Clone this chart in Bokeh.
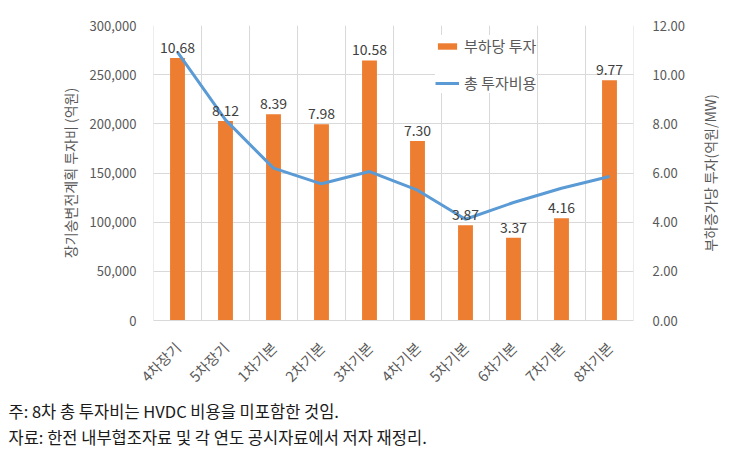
from math import pi
from bokeh.plotting import figure
from bokeh.layouts import row
from bokeh.models import (ColumnDataSource, Range1d, LinearAxis, NumeralTickFormatter,
                          SingleIntervalTicker, LabelSet, Span, Legend, LegendItem, Title)
from bokeh.core.properties import value
from bokeh.embed import file_html
from bokeh.resources import INLINE

cats = ["4차장기", "5차장기", "1차기본", "2차기본", "3차기본", "4차기본", "5차기본", "6차기본", "7차기본", "8차기본"]
per_load = [10.68, 8.12, 8.39, 7.98, 10.58, 7.30, 3.87, 3.37, 4.16, 9.77]
total_cost = [273000, 204000, 155000, 139000, 151500, 132500, 103000, 120000, 134500, 146500]
left_title = "장기송변전계획 투자비 (억원)"
right_title = "부하증가당 투자(억원/MW)"
bar_name = "부하당 투자"
line_name = "총 투자비용"
note1 = "주: 8차 총 투자비는 HVDC 비용을 미포함한 것임."
note2 = "자료: 한전 내부협조자료 및 각 연도 공시자료에서 저자 재정리."

FONT = "Noto Sans CJK KR"
TXT = "#595959"
GRID = "#D9D9D9"

src = ColumnDataSource(dict(cat=cats, pl=per_load, tc=total_cost,
                            lbl=["%.2f" % v for v in per_load]))

p = figure(x_range=cats, y_range=Range1d(0, 300000), width=697, height=448,
           output_backend="svg", toolbar_location=None,
           min_border_left=153, min_border_right=64, min_border_top=25, min_border_bottom=123)
p.x_range.range_padding = 0
p.extra_y_ranges = {"r": Range1d(0, 12)}
p.outline_line_color = None
p.background_fill_color = "white"

bars = p.vbar(x="cat", top="pl", width=0.31, source=src, y_range_name="r",
              fill_color="#ED7D31", line_color=None)
line = p.line(x="cat", y="tc", source=src, line_color="#5B9BD5", line_width=3)

# vertical category boundary gridlines
p.xgrid.visible = False
for i in range(len(cats) + 1):
    p.add_layout(Span(location=i, dimension="height", line_color=GRID, line_width=1, level="underlay"))

p.ygrid.grid_line_color = GRID
p.ygrid.ticker = SingleIntervalTicker(interval=50000)

# left axis
ya = p.yaxis[0]
ya.ticker = SingleIntervalTicker(interval=50000)
ya.formatter = NumeralTickFormatter(format="0,0")
ya.axis_line_color = None
ya.major_tick_line_color = None
ya.minor_tick_line_color = None
ya.major_label_standoff = 11
ya.major_label_text_font = FONT
ya.major_label_text_font_size = "13px"
ya.major_label_text_color = TXT
ya.axis_label = left_title
ya.axis_label_text_font = FONT
ya.axis_label_text_font_size = "14px"
ya.axis_label_text_font_style = "normal"
ya.axis_label_text_color = TXT
ya.axis_label_standoff = 7

# right axis (ticks only; its title is drawn in a narrow side panel)
ra = LinearAxis(y_range_name="r", ticker=SingleIntervalTicker(interval=2),
                formatter=NumeralTickFormatter(format="0.00"))
ra.axis_line_color = None
ra.major_tick_line_color = None
ra.minor_tick_line_color = None
ra.major_label_standoff = 13
ra.major_label_text_font = FONT
ra.major_label_text_font_size = "13px"
ra.major_label_text_color = TXT
p.add_layout(ra, "right")

# x axis
xa = p.xaxis[0]
xa.axis_line_color = GRID
xa.major_tick_line_color = None
xa.minor_tick_line_color = None
xa.major_label_orientation = pi / 4
xa.major_label_standoff = 18
xa.major_label_text_font = FONT
xa.major_label_text_font_size = "14.5px"
xa.major_label_text_color = TXT

# data labels
labels = LabelSet(x="cat", y="pl", text="lbl", source=src, y_range_name="r",
                  text_align="center", text_baseline="bottom", y_offset=5,
                  text_font=value(FONT), text_font_size="14px", text_color="#404040")
p.add_layout(labels)

legend = Legend(items=[LegendItem(label=bar_name, renderers=[bars]),
                       LegendItem(label=line_name, renderers=[line])],
                location=(282, 227), background_fill_color="white", background_fill_alpha=1,
                border_line_color=None, label_text_font=FONT, label_text_font_size="15px",
                label_text_color=TXT, glyph_width=24, glyph_height=8, label_height=20,
                spacing=16, padding=6, margin=0)
p.add_layout(legend)

for txt in (note1, note2):
    p.add_layout(Title(text=txt, align="left", offset=-145, standoff=0,
                       text_font=FONT, text_font_size="16.5px", text_font_style="normal",
                       text_color="#1a1a1a"), "below")

# narrow side panel holding the right-axis title (reads bottom to top)
p2 = figure(width=30, height=448, output_backend="svg", toolbar_location=None,
            min_border_left=0, min_border_right=0, min_border_top=25, min_border_bottom=125)
p2.axis.visible = False
p2.grid.visible = False
p2.outline_line_color = None
p2.add_layout(Title(text=right_title, align="center", standoff=0,
                    text_font=FONT, text_font_size="14px", text_font_style="normal",
                    text_color=TXT), "left")

open("out.html", "w").write(file_html(row(p, p2), INLINE))
